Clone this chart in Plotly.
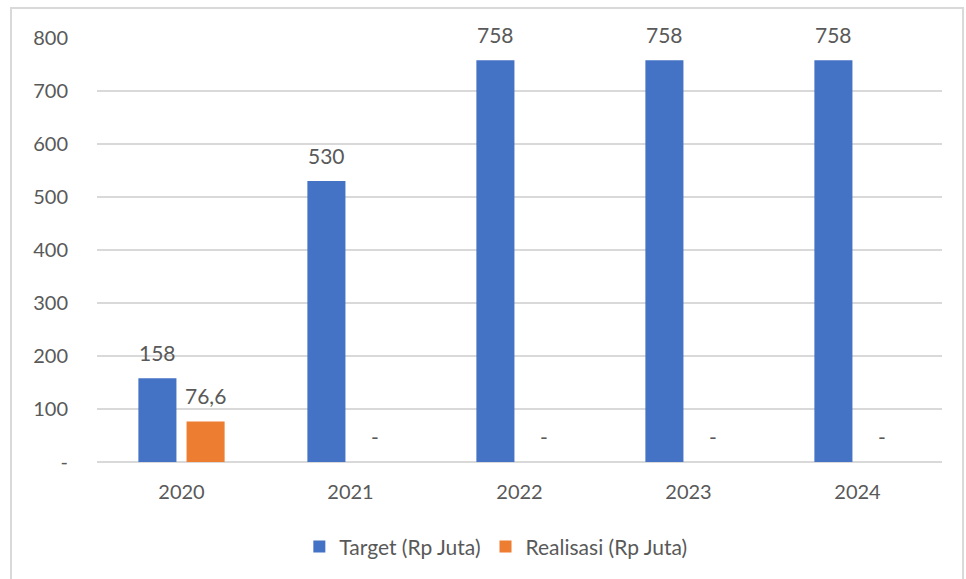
import plotly.graph_objects as go

# Data
years = ["2020", "2021", "2022", "2023", "2024"]
target = [158, 530, 758, 758, 758]
realisasi = [76.6, 0, 0, 0, 0]
target_labels = ["158", "530", "758", "758", "758"]
realisasi_labels = ["76,6", "-", "-", "-", "-"]
y_ticks = [0, 100, 200, 300, 400, 500, 600, 700, 800]
y_tick_text = ["-", "100", "200", "300", "400", "500", "600", "700", "800"]

BLUE = "#4472C4"
ORANGE = "#ED7D31"
TEXT = "#595959"
GRID = "#d9d9d9"
FONT = "Lato, 'Open Sans', sans-serif"

fig = go.Figure()
fig.add_trace(go.Bar(name="Target (Rp Juta)", x=years, y=target,
                     marker=dict(color=BLUE, line=dict(width=0))))
fig.add_trace(go.Bar(name="Realisasi (Rp Juta)", x=years, y=realisasi,
                     marker=dict(color=ORANGE, line=dict(width=0))))

# Data labels floating above each bar; numeric-looking category names are
# addressed by their category index so plotly.js doesn't read them as numbers
for i, (v, lab) in enumerate(zip(target, target_labels)):
    fig.add_annotation(x=i, y=v, text=lab, showarrow=False, xref="x", yref="y",
                       xshift=-24, yshift=26, yanchor="middle",
                       font=dict(family=FONT, size=21, color=TEXT))
for i, (v, lab) in enumerate(zip(realisasi, realisasi_labels)):
    fig.add_annotation(x=i, y=v, text=lab, showarrow=False, xref="x", yref="y",
                       xshift=24, yshift=26, yanchor="middle",
                       font=dict(family=FONT, size=21, color=TEXT))

# Outer chart frame
fig.add_shape(type="rect", xref="paper", yref="paper",
              x0=-0.1018, x1=1.0249, y0=-0.35, y1=1.0708,
              line=dict(color=GRID, width=2), fillcolor="rgba(0,0,0,0)",
              layer="below")

fig.update_layout(
    width=966, height=579,
    margin=dict(l=97, r=24, t=38, b=117),
    paper_bgcolor="white", plot_bgcolor="white",
    barmode="group", bargap=0.43, bargroupgap=0.21,
    font=dict(family=FONT, size=20, color=TEXT),
    showlegend=True,
    legend=dict(orientation="h", x=0.472, xanchor="center", y=-0.2, yanchor="middle",
                font=dict(family=FONT, size=21, color=TEXT), itemwidth=30,
                traceorder="normal"),
    xaxis=dict(type="category", range=[-0.5, len(years) - 0.5],
               showgrid=False, showline=False, ticks="",
               ticklabelstandoff=16,
               tickfont=dict(family=FONT, size=20, color=TEXT)),
    yaxis=dict(range=[0, 800], tickvals=y_ticks, ticktext=y_tick_text,
               showgrid=True, gridcolor=GRID, gridwidth=1.5, zeroline=True,
               zerolinecolor=GRID, zerolinewidth=1.5, showline=False, ticks="",
               ticklabelstandoff=28,
               tickfont=dict(family=FONT, size=20, color=TEXT)),
)

fig.write_html("out.html")
